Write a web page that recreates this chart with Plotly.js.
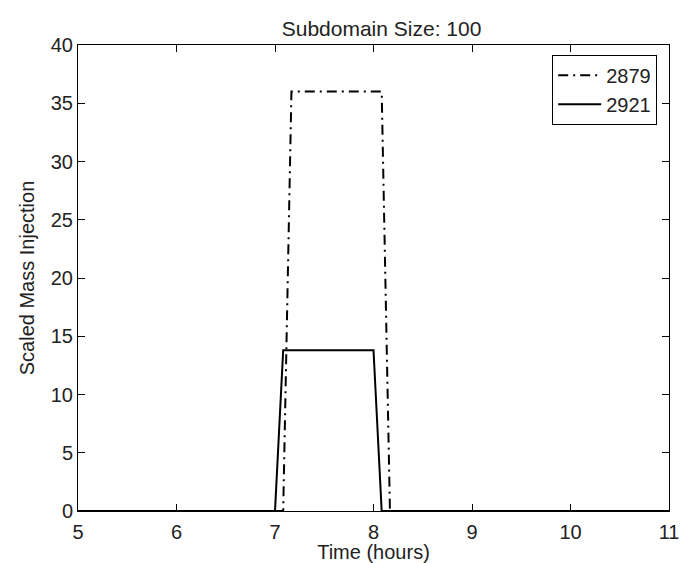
<!DOCTYPE html>
<html>
<head>
<meta charset="utf-8">
<script src="https://cdn.plot.ly/plotly-3.0.1.min.js"></script>
<style>html,body{margin:0;padding:0;background:#fff;}#chart{width:685px;height:563px;}</style>
</head>
<body>
<div id="chart"></div>
<script>
// Data
const seriesNames = ["2879", "2921"];
const time2879 = [5, 7.083, 7.167, 8.083, 8.167, 11];
const mass2879 = [0, 0, 36, 36, 0, 0];
const time2921 = [5, 7.0, 7.083, 8.0, 8.083, 11];
const mass2921 = [0, 0, 13.8, 13.8, 0, 0];
const xTicks = [5, 6, 7, 8, 9, 10, 11];
const yTicks = [0, 5, 10, 15, 20, 25, 30, 35, 40];

const FONT = "Liberation Sans, Arial, sans-serif";
const TXT = "#222";

const traces = [
  {x: time2879, y: mass2879, name: seriesNames[0], mode: "lines",
   line: {color: "#000", width: 2, dash: "10px,5px,2px,5px"}},
  {x: time2921, y: mass2921, name: seriesNames[1], mode: "lines",
   line: {color: "#000", width: 2}}
];

const axisCommon = {
  showgrid: false, zeroline: false, showline: true, linecolor: "#000", linewidth: 1,
  mirror: "ticks", ticks: "inside", ticklen: 7, tickcolor: "#000",
  tickfont: {family: FONT, size: 20, color: TXT}
};

const layout = {
  width: 685, height: 563,
  margin: {l: 78, r: 16, t: 45, b: 52},
  paper_bgcolor: "#fff", plot_bgcolor: "#fff",
  title: {text: "Subdomain Size: 100", font: {family: FONT, size: 21, color: TXT},
          x: 0.557, xanchor: "center", y: 1 - 29/563, yanchor: "middle", yref: "container"},
  xaxis: Object.assign({}, axisCommon, {range: [5, 11], tickvals: xTicks, ticklabelstandoff: 3,
          title: {text: "Time (hours)", font: {family: FONT, size: 20, color: TXT}, standoff: 2}}),
  yaxis: Object.assign({}, axisCommon, {range: [0, 40], tickvals: yTicks,
          title: {text: "Scaled Mass Injection", font: {family: FONT, size: 20, color: TXT}, standoff: 10}}),
  legend: {x: 0.98, xanchor: "right", y: 0.979, yanchor: "top",
           bgcolor: "#fff", bordercolor: "#000", borderwidth: 1,
           font: {family: FONT, size: 20, color: TXT}, tracegroupgap: 0, itemwidth: 43},
  showlegend: true
};

Plotly.newPlot("chart", traces, layout, {displayModeBar: false, staticPlot: true});
</script>
</body>
</html>
